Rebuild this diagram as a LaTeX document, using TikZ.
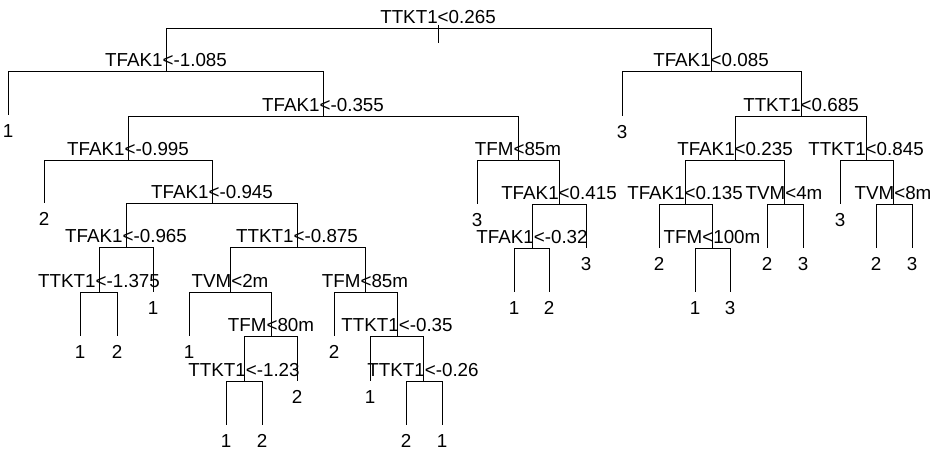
\documentclass[tikz,border=0pt]{standalone}
\usepackage{fontspec}
\setmainfont{Liberation Sans}
\usetikzlibrary{positioning}

\begin{document}
\begin{tikzpicture}[
    x=1pt, y=-1pt, line width=0.9pt,
    split/.style={font=\fontsize{18.8}{19}\selectfont, inner sep=0pt,
                  anchor=base, yshift=4.5pt},
    leaf/.style={font=\fontsize{18.8}{19}\selectfont, inner sep=0pt,
                 anchor=base, yshift=-22pt}
  ]
  \useasboundingbox (0,0) rectangle (942,452);

  % tree nodes, numbered as in R (children of k are 2k and 2k+1)
  \foreach \n/\x/\y in {1/438/28, 2/166/71, 3/711/71, 4/8/115, 5/323/116,
      6/622/116, 7/801/116, 10/128/160, 11/518/160, 14/735/160, 15/866/160,
      20/44/203, 21/212/203, 22/477/204, 23/559/204, 28/685/204, 29/784/204,
      30/840/204, 31/893/204, 42/126/247, 43/297/247, 46/532/248, 47/586/248,
      56/659/248, 57/712/248, 58/767/248, 59/803/248, 62/876/248, 63/912/248,
      84/99/292, 85/153/292, 86/230/292, 87/365/292, 92/514/292, 93/549/292,
      114/695/292, 115/730/292, 168/80/336, 169/117/336, 172/189/336,
      173/271/336, 174/334/336, 175/397/336, 346/244/381, 347/297/381,
      350/370/381, 351/423/381, 692/226/425, 693/262/425, 702/406/425,
      703/442/425}
    \coordinate (n\n) at (\x,\y);

  % root stem
  \coordinate (stemtop) at (438,25);
  \coordinate (stem) at (438,43);
  \draw (stemtop) -- (stem);

  % branches
  \foreach \c in {2,3,4,5,6,7,10,11,14,15,20,21,22,23,28,29,30,31,42,43,46,
      47,56,57,58,59,62,63,84,85,86,87,92,93,114,115,168,169,172,173,174,175,
      346,347,350,351,692,693,702,703} {
    \pgfmathtruncatemacro\p{\c/2}
    \draw (n\p) -| (n\c);
  }

  % split labels
  \foreach \n/\t in {1/TTKT1<0.265, 2/TFAK1<-1.085, 3/TFAK1<0.085,
      5/TFAK1<-0.355, 7/TTKT1<0.685, 10/TFAK1<-0.995, 11/TFM<85m,
      14/TFAK1<0.235, 15/TTKT1<0.845, 21/TFAK1<-0.945, 23/TFAK1<0.415,
      28/TFAK1<0.135, 29/TVM<4m, 31/TVM<8m, 42/TFAK1<-0.965,
      43/TTKT1<-0.875, 46/TFAK1<-0.32, 57/TFM<100m, 84/TTKT1<-1.375,
      86/TVM<2m, 87/TFM<85m, 173/TFM<80m, 175/TTKT1<-0.35,
      346/TTKT1<-1.23, 351/TTKT1<-0.26}
    \node[split] (t\n) at (n\n) {\t};

  % leaf classes
  \foreach \n/\t in {4/1, 6/3, 20/2, 22/3, 30/3, 47/3, 56/2, 58/2, 59/3,
      62/2, 63/3, 85/1, 92/1, 93/2, 114/1, 115/3, 168/1, 169/2, 172/1,
      174/2, 347/2, 350/1, 692/1, 693/2, 702/2, 703/1}
    \node[leaf] (l\n) at (n\n) {\t};
\end{tikzpicture}
\end{document}
